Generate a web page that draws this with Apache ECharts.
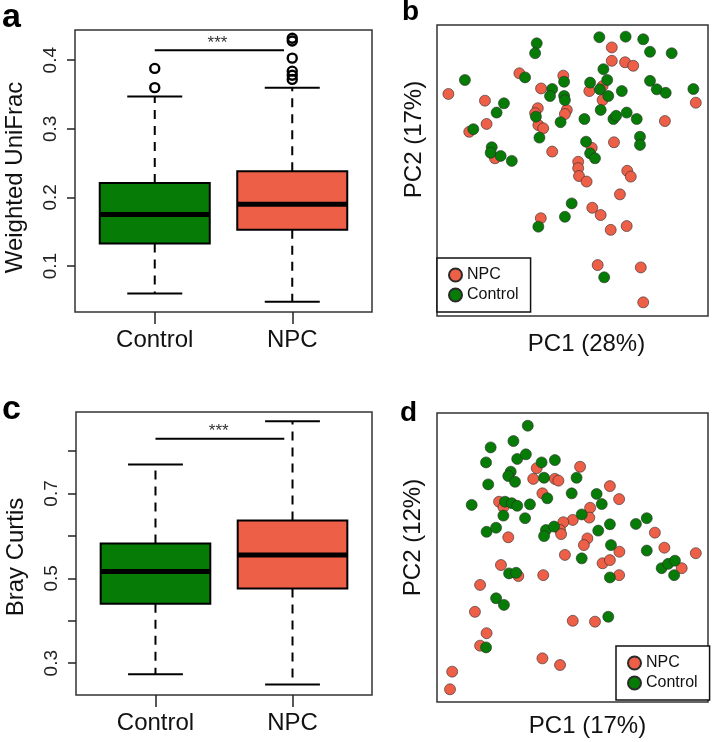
<!DOCTYPE html>
<html><head><meta charset="utf-8">
<script src="https://cdn.jsdelivr.net/npm/echarts@6/dist/echarts.min.js"></script>
<style>html,body{margin:0;padding:0;background:#fff}#c{width:712px;height:742px}</style>
</head><body><div id="c"></div>
<script>
// ---------- data ----------
const categories = ['Control', 'NPC'];
// [lower whisker, Q1, median, Q3, upper whisker]
const unifracControl = [0.060, 0.133, 0.175, 0.221, 0.347];
const unifracNPC     = [0.048, 0.153, 0.190, 0.238, 0.360];
const unifracOutControl = [0.388, 0.360];
const unifracOutNPC     = [0.432, 0.428, 0.403, 0.384, 0.378, 0.372];
const brayControl = [0.274, 0.440, 0.516, 0.582, 0.768];
const brayNPC     = [0.250, 0.476, 0.555, 0.636, 0.870];
const unifracTicks = [0.1, 0.2, 0.3, 0.4];
const unifracTickLabels = [0.1, 0.2, 0.3, 0.4];
const brayTicks = [0.3, 0.4, 0.5, 0.6, 0.7, 0.8];
const brayTickLabels = [0.3, 0.5, 0.7];
// significance bars: [x from, x to, y bar, x label, y label]
const unifracSig = [1, 1.94, 0.4146, 1.456, 0.4247];
const braySig    = [1, 1.94, 0.829, 1.462, 0.847];
const sigLabel = '***';

// PCoA scores (relative units)
const pcoaUnifracNPC = [[4.2,76.3],[17.7,74.0],[18.3,66.0],[11.9,63.3],[30.4,83.4],[46.6,82.6],[38.4,78.2],[37.2,71.4],[36.2,69.7],[47.9,70.8],[47.2,69.4],[37.4,65.6],[39.2,64.5],[64.5,92.3],[64.5,87.7],[69.4,87.2],[72.4,86.0],[61.1,79.0],[56.2,77.3],[61.1,74.2],[95.5,73.3],[84.1,67.0],[42.5,56.5],[65.3,59.7],[57.1,57.8],[21.4,54.2],[52.1,53.0],[52.1,50.8],[52.4,48.1],[55.2,46.2],[70.2,49.9],[71.5,47.9],[67.5,41.8],[38.3,33.6],[57.3,37.2],[60.4,34.7],[64.1,29.6],[70.0,30.9],[59.3,17.5],[75.2,16.7],[76.1,4.7]];
const pcoaUnifracControl = [[36.8,93.7],[36.2,90.3],[59.9,95.8],[69.6,96.0],[76.1,95.1],[78.6,90.8],[86.6,90.3],[10.3,81.1],[32.5,82.0],[46.9,80.5],[42.5,78.0],[41.7,75.6],[46.9,75.6],[47.2,74.2],[56.5,80.2],[62.8,81.1],[61.4,84.8],[60.1,77.9],[63.2,75.6],[68.2,77.3],[78.6,80.8],[81.1,77.9],[84.4,76.7],[94.6,78.0],[24.7,73.1],[22.0,69.9],[13.4,64.2],[36.5,68.5],[45.6,66.6],[54.4,67.7],[60.4,70.8],[65.1,67.7],[66.1,68.8],[70.0,69.9],[73.7,67.7],[74.9,61.6],[74.9,58.8],[37.8,61.3],[20.2,58.0],[19.8,56.1],[23.5,55.0],[27.6,53.3],[55.0,59.9],[56.5,55.9],[58.3,54.2],[49.7,38.7],[47.2,34.1],[37.4,30.7],[61.7,13.3]];
const pcoaBrayNPC = [[36.8,80.9],[35.5,77.2],[43.5,77.2],[44.8,76.6],[52.8,81.4],[38.9,72.2],[63.8,74.7],[67.2,70.2],[22.9,69.3],[24.5,67.4],[26.3,57.0],[56.5,67.2],[56.2,63.8],[50.1,63.0],[46.6,62.2],[45.4,59.5],[45.8,58.1],[55.5,56.6],[54.2,54.3],[80.4,58.6],[83.9,53.4],[95.5,51.5],[67.3,52.0],[47.2,50.9],[61.1,48.0],[63.8,49.1],[67.2,43.9],[90.3,46.3],[23.6,47.4],[30.0,43.6],[39.2,43.9],[15.9,40.5],[14.0,31.2],[18.3,23.8],[15.9,19.5],[50.1,28.1],[58.3,27.8],[38.9,15.1],[45.4,12.8],[5.6,10.5],[4.8,4.4]];
const pcoaBrayControl = [[33.5,95.6],[28.2,90.3],[19.8,88.1],[18.1,82.9],[29.6,84.1],[32.8,85.7],[38.6,82.9],[43.5,83.7],[27.2,79.7],[26.3,78.2],[28.8,76.2],[18.9,75.3],[39.5,77.6],[51.5,77.6],[12.8,68.2],[25.1,69.3],[27.6,68.8],[29.6,67.9],[34.3,68.4],[24.5,64.5],[32.5,63.6],[40.7,70.5],[49.7,72.2],[58.9,72.0],[60.8,68.5],[53.4,64.9],[18.3,58.9],[21.8,60.3],[40.2,59.5],[39.5,57.4],[43.2,60.7],[59.5,59.3],[63.8,61.5],[73.4,61.6],[77.4,63.6],[64.2,54.3],[77.4,52.4],[53.4,49.7],[26.6,44.5],[29.2,44.7],[63.8,43.1],[82.9,46.3],[85.3,47.8],[87.8,48.9],[87.5,43.9],[21.8,35.9],[24.7,33.6],[63.2,29.5],[18.1,18.9]];

// ---------- styling ----------
const GREEN = '#067C06';
const RED = '#EE5F48';
const FONT = 'Liberation Sans, Arial, Helvetica, sans-serif';
const BOX_W = 0.8;

function renderBox(params, api) {
  const x = api.value(0);
  const p = [1,2,3,4,5].map(i => api.coord([x, api.value(i)]));
  const cx = p[0][0];
  const w = api.size([BOX_W, 0])[0];
  const hw = w / 2, cw = w / 4;
  const color = api.visual('color');
  const line = (x1, y1, x2, y2, lw, dash) => ({
    type: 'line', shape: {x1, y1, x2, y2},
    style: {stroke: '#000', lineWidth: lw, lineDash: dash || null}
  });
  return {type: 'group', children: [
    line(cx, p[1][1], cx, p[0][1], 2, [9, 7]),
    line(cx, p[3][1], cx, p[4][1], 2, [9, 7]),
    line(cx - cw, p[0][1], cx + cw, p[0][1], 2),
    line(cx - cw, p[4][1], cx + cw, p[4][1], 2),
    {type: 'rect', shape: {x: cx - hw, y: p[3][1], width: w, height: p[1][1] - p[3][1]},
     style: {fill: color, stroke: '#000', lineWidth: 2}},
    line(cx - hw, p[2][1], cx + hw, p[2][1], 5)
  ]};
}
function renderSig(params, api) {
  const a = api.coord([api.value(0), api.value(2)]);
  const b = api.coord([api.value(1), api.value(2)]);
  const t = api.coord([api.value(3), api.value(4)]);
  return {type: 'group', children: [
    {type: 'line', shape: {x1: a[0], y1: a[1], x2: b[0], y2: b[1]}, style: {stroke: '#000', lineWidth: 2}},
    {type: 'text', style: {text: sigLabel, x: t[0], y: t[1], align: 'center', verticalAlign: 'middle',
      textAlign: 'center', textVerticalAlign: 'middle', font: '17px ' + FONT, fill: '#333'}}
  ]};
}

function boxXAxis(gi) {
  return {type: 'value', gridIndex: gi, min: 0.42, max: 2.58,
    axisLine: {show: false}, splitLine: {show: false},
    axisTick: {show: true, customValues: [1, 2], length: 12, lineStyle: {color: '#222', width: 1.5}},
    axisLabel: {customValues: [1, 2], formatter: v => categories[Math.round(v) - 1],
      fontSize: 24, color: '#111', fontFamily: FONT, margin: 16}};
}
function boxYAxis(gi, min, max, ticks, labels, name, pad) {
  return {type: 'value', gridIndex: gi, min, max,
    axisLine: {show: false}, splitLine: {show: false},
    axisTick: {show: true, customValues: ticks, length: 8, lineStyle: {color: '#222', width: 1.5}},
    axisLabel: {customValues: labels, rotate: 90, fontSize: 19, color: '#222', fontFamily: FONT, margin: 15},
    name, nameLocation: 'middle', nameGap: 48,
    nameTextStyle: {fontSize: 24, color: '#111', fontFamily: FONT, padding: pad}};
}
function pcAxis(gi, name, gap, pad) {
  return {type: 'value', gridIndex: gi, min: 0, max: 100,
    axisLine: {show: false}, axisTick: {show: false}, axisLabel: {show: false}, splitLine: {show: false},
    name, nameLocation: 'middle', nameGap: gap,
    nameTextStyle: {fontSize: 24, color: '#111', fontFamily: FONT, padding: pad}};
}
function boxSeries(xi, ctrl, npc) {
  return {type: 'custom', xAxisIndex: xi, yAxisIndex: xi, renderItem: renderBox,
    data: [{value: [1, ...ctrl], itemStyle: {color: GREEN}}, {value: [2, ...npc], itemStyle: {color: RED}}],
    z: 3};
}
function outlierSeries(xi, vals, cat) {
  return {type: 'scatter', xAxisIndex: xi, yAxisIndex: xi, symbol: 'circle', symbolSize: 9,
    itemStyle: {color: 'rgba(255,255,255,0)', borderWidth: 2.4, borderColor: '#000', opacity: 1},
    data: vals.map(v => [cat, v]), z: 4};
}
function pcSeries(xi, name, data, color) {
  return {type: 'scatter', name, xAxisIndex: xi, yAxisIndex: xi, symbol: 'circle', symbolSize: 11,
    itemStyle: {color, borderColor: '#2a2a2a', borderWidth: 0.6, opacity: 1}, data};
}
function legendAt(left, top) {
  return {left, top, orient: 'vertical', data: ['NPC', 'Control'], icon: 'circle',
    itemWidth: 13, itemHeight: 13, itemGap: 4, padding: [9, 12, 9, 11],
    borderColor: '#111', borderWidth: 1.5, backgroundColor: '#fff',
    textStyle: {fontSize: 16, color: '#111', fontFamily: FONT}, selectedMode: false};
}

const chart = echarts.init(document.getElementById('c'), null, {renderer: 'canvas'});
const gridStyle = {show: true, borderColor: '#333', borderWidth: 1.5, backgroundColor: 'transparent'};
chart.setOption({
  animation: false,
  backgroundColor: '#fff',
  grid: [
    Object.assign({left: 75, top: 30, width: 297, height: 282}, gridStyle),
    Object.assign({left: 437, top: 25, width: 271, height: 291}, gridStyle),
    Object.assign({left: 76, top: 412, width: 296, height: 283}, gridStyle),
    Object.assign({left: 437, top: 413, width: 271, height: 289}, gridStyle)
  ],
  xAxis: [
    boxXAxis(0),
    pcAxis(1, 'PC1 (28%)', 16, [0, 0, 0, 28]),
    boxXAxis(2),
    pcAxis(3, 'PC1 (17%)', 12, [0, 0, 0, 30])
  ],
  yAxis: [
    boxYAxis(0, 0.033, 0.444, unifracTicks, unifracTickLabels, 'Weighted UniFrac', [0, 13, 0, 0]),
    pcAxis(1, 'PC2 (17%)', 11, [0, 0, 0, 62]),
    boxYAxis(2, 0.225, 0.892, brayTicks, brayTickLabels, 'Bray Curtis', [0, 7, 0, 0]),
    pcAxis(3, 'PC2 (12%)', 12, [0, 0, 0, 40])
  ],
  legend: [legendAt(437, 258), legendAt(616, 646)],
  graphic: [
    {type: 'text', style: {text: 'a', x: 2, y: 18, verticalAlign: 'middle', textVerticalAlign: 'middle', font: 'bold 34px ' + FONT, fill: '#000'}},
    {type: 'text', style: {text: 'b', x: 402, y: 12, verticalAlign: 'middle', textVerticalAlign: 'middle', font: 'bold 28px ' + FONT, fill: '#000'}},
    {type: 'text', style: {text: 'c', x: 2, y: 410, verticalAlign: 'middle', textVerticalAlign: 'middle', font: 'bold 34px ' + FONT, fill: '#000'}},
    {type: 'text', style: {text: 'd', x: 400, y: 413, verticalAlign: 'middle', textVerticalAlign: 'middle', font: 'bold 28px ' + FONT, fill: '#000'}}
  ],
  series: [
    boxSeries(0, unifracControl, unifracNPC),
    outlierSeries(0, unifracOutControl, 1),
    outlierSeries(0, unifracOutNPC, 2),
    {type: 'custom', xAxisIndex: 0, yAxisIndex: 0, renderItem: renderSig, data: [unifracSig], z: 4},
    boxSeries(2, brayControl, brayNPC),
    {type: 'custom', xAxisIndex: 2, yAxisIndex: 2, renderItem: renderSig, data: [braySig], z: 4},
    pcSeries(1, 'NPC', pcoaUnifracNPC, RED),
    pcSeries(1, 'Control', pcoaUnifracControl, GREEN),
    pcSeries(3, 'NPC', pcoaBrayNPC, RED),
    pcSeries(3, 'Control', pcoaBrayControl, GREEN)
  ]
});
</script></body></html>
